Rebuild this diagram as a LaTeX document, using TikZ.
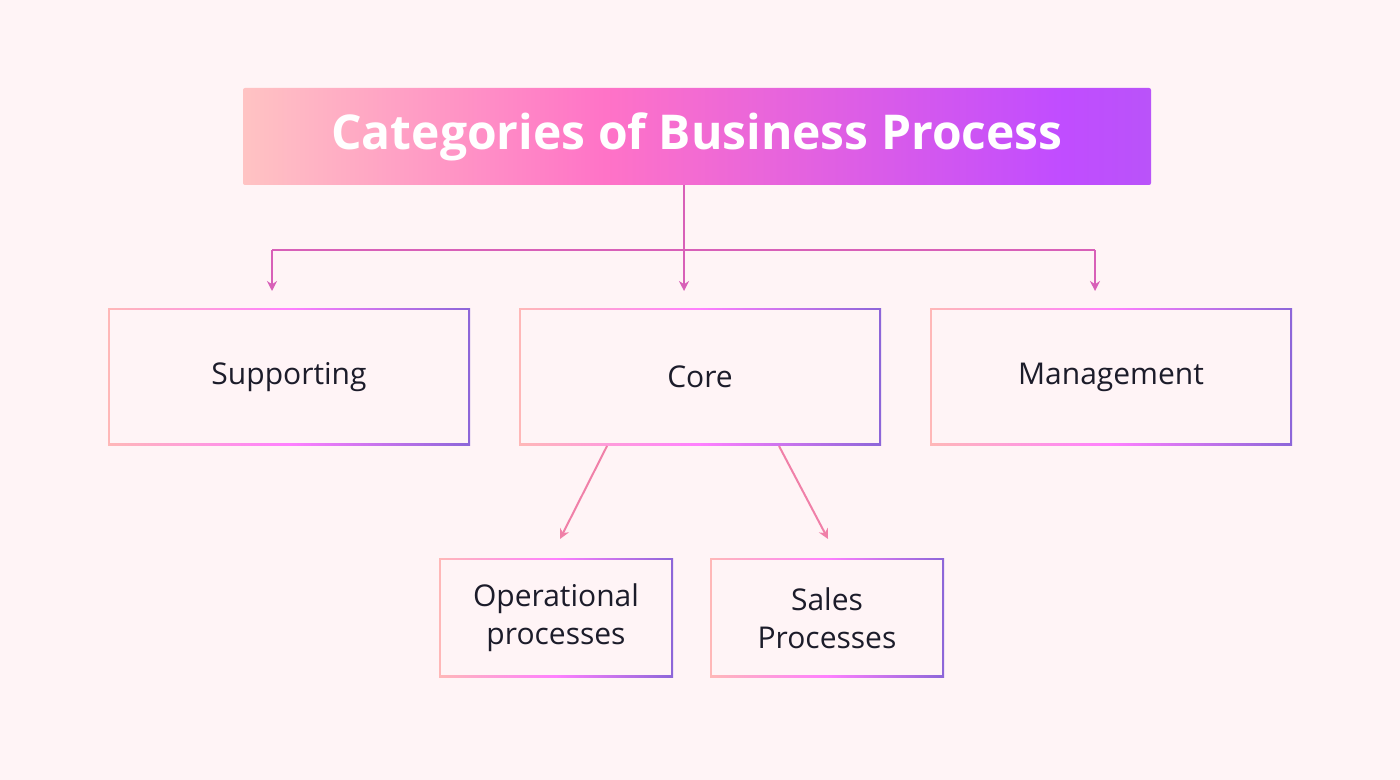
\documentclass[tikz,border=0pt]{standalone}
\usepackage{fontspec}
\setmainfont{Open Sans}
\usetikzlibrary{arrows.meta}
\definecolor{bg}{HTML}{FFF4F6}
\definecolor{txt}{HTML}{1C1C2A}
\definecolor{lnk}{HTML}{D860B8}
\definecolor{lnk2}{HTML}{F080A8}
\pgfdeclarehorizontalshading{titleshade}{100bp}{color(0bp)=(pink!60!white!90!red);color(25bp)=(pink!60!white!90!red);color(45bp)=(red!40!magenta!55!white);color(70bp)=(magenta!65!blue!70!white);color(100bp)=(violet!50!blue!55!white);color(100bp)=(violet!50!blue!55!white)}
\pgfdeclarehorizontalshading{bordershade}{100bp}{color(0bp)=(pink!80!red!70!white);color(25bp)=(pink!80!red!70!white);color(50bp)=(magenta!50!white);color(75bp)=(violet!50!blue!60!white);color(100bp)=(violet!50!blue!60!white)}
\tikzset{
  conn/.style={draw=lnk, line width=1pt, -{Stealth[length=5pt,width=5pt]}},
  conn2/.style={draw=lnk2, line width=1pt, -{Stealth[length=5pt,width=5pt]}},
  lbl/.style={font=\fontsize{15}{18}\selectfont, text=txt, align=center},
}
\newcommand{\gbox}[5]{%
  \shade[shading=bordershade] (#1,#2) rectangle (#3,#4);
  \fill[bg] ($(#1,#2)+(2,2)$) rectangle ($(#3,#4)+(-2,-2)$);
  \node[lbl] (#5) at ($(#1,#2)!0.5!(#3,#4)$) {};
}
\usetikzlibrary{calc}
\begin{document}
\begin{tikzpicture}[x=0.5pt,y=-0.5pt]
\fill[bg] (0,0) rectangle (1400,780);
\useasboundingbox (0,0) rectangle (1400,780);
\shade[shading=titleshade, rounded corners=1pt] (243,88) rectangle (1151,185);
\node[font=\fontsize{24}{28}\selectfont\bfseries, text=white] (title) at (697,137) {Categories of Business Process};
\coordinate (tb) at (684,185);
\coordinate (j) at (684,250);
\coordinate (l) at (272,250);
\coordinate (r) at (1095,250);
% boxes
\gbox{108}{308}{470}{445}{sup}
\gbox{519}{308}{881}{445}{core}
\gbox{930}{308}{1292}{445}{man}
\gbox{439}{558}{673}{677}{op}
\gbox{710}{558}{944}{677}{sal}
\node[lbl] at (289,377) {Supporting};
\node[lbl] at (700,377) {Core};
\node[lbl] at (1111,377) {Management};
\node[lbl, font=\fontsize{15}{19}\selectfont] at (556,618) {Operational\\processes};
\node[lbl, font=\fontsize{15}{19}\selectfont] at (827,618) {Sales\\Processes};
\coordinate (sa) at (272,291);
\coordinate (ca) at (684,291);
\coordinate (ma) at (1095,291);
\draw[draw=lnk, line width=1pt] (tb) -- (j);
\draw[draw=lnk, line width=1pt] (l) -- (r);
\draw[conn] (l) -- (sa);
\draw[conn] (j) -- (ca);
\draw[conn] (r) -- (ma);
\coordinate (c1) at (607,446);
\coordinate (c2) at (779,446);
\coordinate (o1) at (560,539);
\coordinate (s1) at (828,539);
\draw[conn2] (c1) -- (o1);
\draw[conn2] (c2) -- (s1);
\end{tikzpicture}
\end{document}
